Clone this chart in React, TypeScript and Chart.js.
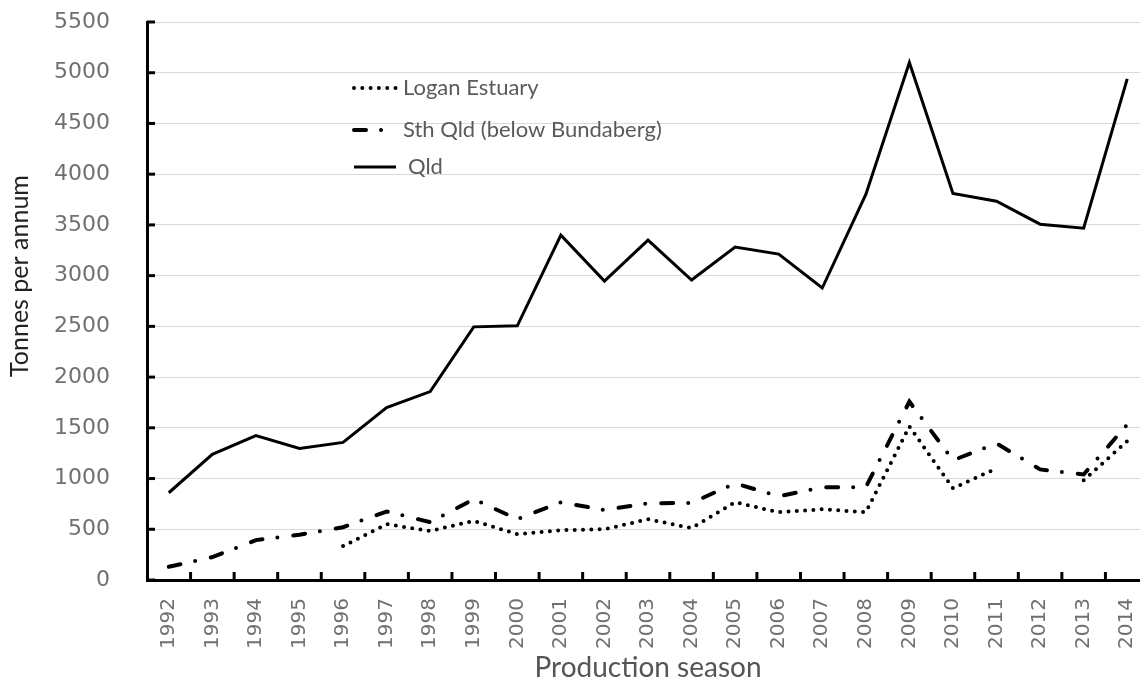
import React, { useEffect, useRef } from 'react';
import { Chart, registerables } from 'chart.js';

Chart.register(...registerables);

const years = ['1992', '1993', '1994', '1995', '1996', '1997', '1998', '1999', '2000', '2001', '2002', '2003', '2004', '2005', '2006', '2007', '2008', '2009', '2010', '2011', '2012', '2013', '2014'];
const loganEstuary = [null, null, null, null, 334, 550, 484, 583, 452, 491, 500, 599, 511, 766, 668, 697, 668, 1513, 904, 1100, null, 982, 1369];
const sthQld = [130, 226, 393, 447, 520, 675, 570, 796, 600, 766, 690, 756, 760, 953, 825, 913, 915, 1758, 1180, 1346, 1090, 1040, 1532];
const qld = [860, 1238, 1424, 1297, 1356, 1700, 1857, 2495, 2505, 3399, 2947, 3350, 2957, 3281, 3212, 2878, 3800, 5100, 3811, 3733, 3507, 3468, 4940];
const seriesLabels = ['Logan Estuary', 'Sth Qld (below Bundaberg)', 'Qld'];
const yTitle = 'Tonnes per annum';
const xTitle = 'Production season';
const yMin = 0;
const yMax = 5500;
const yStep = 500;

const verdanaLike = '"DejaVu Sans", Verdana, sans-serif';

const inwardTicks = {
  id: 'inwardTicks',
  afterDraw(chart: any) {
    const { ctx, chartArea, scales } = chart;
    const x = scales.x;
    const y = scales.y;
    ctx.save();
    ctx.strokeStyle = '#000';
    ctx.lineWidth = 3;
    y.ticks.forEach((_t: any, i: number) => {
      const py = y.getPixelForTick(i);
      ctx.beginPath();
      ctx.moveTo(chartArea.left, py);
      ctx.lineTo(chartArea.left + 8, py);
      ctx.stroke();
    });
    const step = x.getPixelForValue(1) - x.getPixelForValue(0);
    for (let i = 1; i <= x.ticks.length; i++) {
      const px = x.getPixelForValue(i) - step / 2;
      ctx.beginPath();
      ctx.moveTo(px, chartArea.bottom);
      ctx.lineTo(px, chartArea.bottom - 8);
      ctx.stroke();
    }
    ctx.restore();
  },
};

const insideLegend = {
  id: 'insideLegend',
  afterDraw(chart: any, _args: any, opts: any) {
    const { ctx } = chart;
    ctx.save();
    chart.data.datasets.forEach((ds: any, i: number) => {
      const yy = opts.ys[i];
      ctx.beginPath();
      ctx.strokeStyle = ds.borderColor;
      ctx.lineWidth = ds.borderWidth;
      ctx.lineCap = ds.borderCapStyle || 'butt';
      ctx.setLineDash(ds.borderDash || []);
      ctx.moveTo(opts.x, yy);
      ctx.lineTo(opts.x + opts.len, yy);
      ctx.stroke();
      ctx.setLineDash([]);
      ctx.fillStyle = '#5a5a5a';
      ctx.font = opts.font;
      ctx.textBaseline = 'middle';
      ctx.textAlign = 'left';
      ctx.fillText(ds.label, opts.x + opts.len + opts.gap[i], yy);
    });
    ctx.restore();
  },
};

const yAxisTitle = {
  id: 'yAxisTitle',
  afterDraw(chart: any, _args: any, opts: any) {
    const { ctx } = chart;
    ctx.save();
    ctx.translate(opts.x, opts.y);
    ctx.rotate(-Math.PI / 2);
    ctx.fillStyle = '#222';
    ctx.font = opts.font;
    ctx.textAlign = 'center';
    ctx.textBaseline = 'middle';
    ctx.fillText(opts.text, 0, 0);
    ctx.restore();
  },
};

export default function App() {
  const ref = useRef<HTMLCanvasElement | null>(null);
  useEffect(() => {
    if (!ref.current) return;
    const chart = new Chart(ref.current, {
      type: 'line',
      data: {
        labels: years,
        datasets: [
          {
            label: seriesLabels[0],
            data: loganEstuary,
            borderColor: '#000',
            borderWidth: 4,
            borderDash: [0, 8.3],
            borderCapStyle: 'round',
            pointRadius: 0,
            spanGaps: false,
            tension: 0,
            fill: false,
          },
          {
            label: seriesLabels[1],
            data: sthQld,
            borderColor: '#000',
            borderWidth: 4,
            borderDash: [12, 15, 0, 16],
            borderCapStyle: 'round',
            pointRadius: 0,
            tension: 0,
            fill: false,
          },
          {
            label: seriesLabels[2],
            data: qld,
            borderColor: '#000',
            borderWidth: 3,
            pointRadius: 0,
            tension: 0,
            fill: false,
          },
        ],
      } as any,
      options: {
        animation: false,
        responsive: false,
        maintainAspectRatio: false,
        layout: { padding: { left: 0, right: 11, top: 22, bottom: 0 } },
        plugins: {
          legend: { display: false },
          tooltip: { enabled: false },
          insideLegend: {
            x: 354,
            len: 42,
            ys: [88, 130, 167],
            gap: [7, 7, 12],
            font: '22px Lato',
          },
          yAxisTitle: {
            x: 20,
            y: 276,
            text: yTitle,
            font: '25px Lato',
          },
        } as any,
        scales: {
          x: {
            offset: true,
            grid: { display: false, drawTicks: false, offset: true },
            border: { display: true, color: '#000', width: 3 },
            ticks: {
              autoSkip: false,
              maxRotation: 90,
              minRotation: 90,
              padding: 18,
              color: '#707070',
              font: { family: verdanaLike, size: 20 },
            },
            title: {
              display: true,
              text: xTitle,
              color: '#555',
              font: { family: 'Lato', size: 28 },
              padding: { top: 0, bottom: 10 },
            },
            afterFit: (scale: any) => {
              scale.height = 115;
              scale.paddingLeft = 0;
              scale.paddingRight = 0;
            },
          },
          y: {
            min: yMin,
            max: yMax,
            grid: { display: true, color: '#dadada', lineWidth: 1, drawTicks: false },
            border: { display: true, color: '#000', width: 3 },
            ticks: {
              stepSize: yStep,
              padding: 37,
              color: '#707070',
              font: { family: verdanaLike, size: 22 },
              callback: (v: any) => String(v),
            },
            title: { display: false },
            afterFit: (scale: any) => {
              scale.width = 147;
              scale.paddingTop = 0;
              scale.paddingBottom = 0;
            },
          },
        },
      } as any,
      plugins: [inwardTicks, insideLegend, yAxisTitle],
    });
    return () => chart.destroy();
  }, []);

  return (
    <div style={{ position: 'absolute', left: 0, top: 0, width: 1140, height: 695, overflow: 'hidden', background: '#fff' }}>
      <canvas ref={ref} width={1160} height={695} style={{ display: 'block', width: 1160, height: 695 }} />
    </div>
  );
}
